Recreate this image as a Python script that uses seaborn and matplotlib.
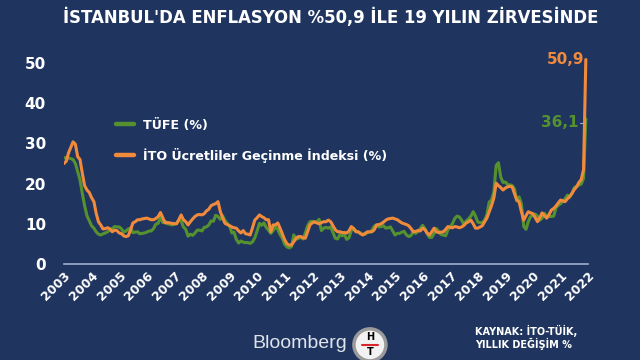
import matplotlib
matplotlib.use("Agg")
import matplotlib.pyplot as plt
import matplotlib.patches as mpatches
from matplotlib.lines import Line2D
import pandas as pd
import seaborn as sns

BG = "#1f3560"
GREEN = "#55922f"
ORANGE = "#f28a3c"

sns.set_theme(style="white")
plt.rcParams["font.family"] = ["DejaVu Sans"]

# monthly annual change, Jan 2003 .. Dec 2021
tufe = [
    26.4, 26.5, 26.4, 26.2, 26.0, 25.0, 23.0, 20.9, 17.5, 14.5, 12.0, 10.8,  # 2003
    9.5, 8.9, 8.0, 7.4, 7.2, 7.5, 7.7, 8.0, 8.5, 8.8, 9.3, 9.2,  # 2004
    9.2, 8.7, 7.9, 8.2, 8.7, 8.9, 7.8, 7.9, 8.0, 7.5, 7.6, 7.7,  # 2005
    7.9, 8.2, 8.2, 8.8, 9.9, 10.1, 11.7, 10.3, 10.6, 10.0, 9.9, 9.7,  # 2006
    9.9, 10.2, 10.9, 10.7, 9.2, 8.6, 6.9, 7.4, 7.1, 7.7, 8.4, 8.4,  # 2007
    8.2, 9.1, 9.2, 9.7, 10.7, 10.6, 12.1, 11.8, 11.1, 12.0, 10.8, 10.1,  # 2008
    9.5, 7.7, 7.9, 6.1, 5.2, 5.7, 5.4, 5.3, 5.3, 5.1, 5.5, 6.5,  # 2009
    8.2, 10.1, 9.6, 10.2, 9.1, 8.4, 7.6, 8.3, 9.2, 8.6, 7.3, 6.4,  # 2010
    4.9, 4.2, 4.0, 4.3, 7.2, 6.2, 6.3, 6.7, 6.2, 7.7, 9.5, 10.5,  # 2011
    10.6, 10.4, 10.4, 11.1, 8.3, 8.9, 9.1, 8.9, 9.2, 7.8, 6.4, 6.2,  # 2012
    7.3, 7.0, 7.3, 6.1, 6.5, 8.3, 8.9, 8.2, 7.9, 7.7, 7.3, 7.4,  # 2013
    7.8, 7.9, 8.4, 9.4, 9.7, 9.2, 9.3, 9.5, 8.9, 9.0, 9.2, 8.2,  # 2014
    7.2, 7.6, 7.6, 7.9, 8.1, 7.2, 6.8, 7.1, 8.0, 7.6, 8.1, 8.8,  # 2015
    9.6, 8.8, 7.5, 6.6, 6.6, 7.6, 8.8, 8.1, 7.3, 7.2, 7.0, 8.5,  # 2016
    9.2, 10.1, 11.3, 11.9, 11.7, 10.9, 9.8, 10.7, 11.2, 11.9, 13.0, 11.9,  # 2017
    10.4, 10.3, 10.2, 10.9, 12.2, 15.4, 15.9, 17.9, 24.5, 25.2, 21.6, 20.3,  # 2018
    20.4, 19.7, 19.7, 19.5, 18.7, 15.7, 16.7, 15.0, 9.3, 8.6, 10.6, 11.8,  # 2019
    12.2, 12.4, 11.9, 10.9, 11.4, 12.6, 11.8, 11.8, 11.8, 11.9, 14.0, 14.6,  # 2020
    15.0, 15.6, 16.2, 17.1, 16.6, 17.5, 19.0, 19.3, 19.6, 19.9, 21.3, 36.1,  # 2021
]
ito = [
    25.0, 25.6, 27.6, 29.0, 30.4, 29.8, 26.7, 26.0, 22.5, 19.5, 18.4, 17.8,  # 2003
    16.5, 15.5, 12.7, 10.5, 9.7, 8.7, 8.8, 9.0, 8.7, 8.0, 8.4, 8.3,  # 2004
    7.7, 7.5, 7.0, 6.8, 7.0, 8.5, 10.2, 10.5, 11.0, 11.0, 11.2, 11.3,  # 2005
    11.4, 11.2, 11.0, 11.0, 11.3, 11.8, 12.8, 11.5, 10.2, 10.3, 10.2, 10.1,  # 2006
    10.0, 10.0, 11.0, 12.2, 11.0, 10.5, 9.7, 10.5, 11.2, 11.8, 12.2, 12.3,  # 2007
    12.2, 12.5, 13.2, 13.6, 14.5, 14.8, 15.0, 15.5, 13.0, 11.5, 10.1, 9.8,  # 2008
    9.5, 9.2, 9.0, 8.9, 8.2, 7.7, 8.3, 7.5, 7.4, 7.2, 9.0, 10.9,  # 2009
    11.5, 12.2, 11.8, 11.5, 11.0, 11.0, 8.0, 9.7, 9.7, 10.2, 8.9, 7.5,  # 2010
    6.0, 5.0, 4.7, 4.7, 5.5, 6.4, 6.8, 6.8, 6.5, 6.4, 8.0, 9.7,  # 2011
    10.2, 10.5, 10.2, 10.0, 10.3, 10.5, 10.5, 10.9, 10.5, 9.5, 8.5, 8.0,  # 2012
    8.0, 7.8, 7.8, 7.7, 8.2, 9.3, 8.8, 8.0, 8.0, 7.5, 7.2, 7.6,  # 2013
    8.0, 8.0, 8.0, 8.5, 9.7, 9.8, 10.0, 10.4, 10.9, 11.2, 11.3, 11.4,  # 2014
    11.2, 11.0, 10.6, 10.2, 10.0, 9.8, 9.5, 8.8, 8.0, 8.1, 8.3, 8.2,  # 2015
    8.9, 8.5, 7.7, 7.2, 8.0, 8.9, 8.0, 7.8, 7.9, 8.0, 8.6, 9.3,  # 2016
    9.1, 9.0, 9.3, 9.2, 9.0, 9.2, 9.6, 10.2, 10.5, 10.9, 10.0, 8.9,  # 2017
    8.9, 9.2, 9.5, 10.5, 11.4, 13.0, 14.5, 16.4, 20.1, 19.5, 19.0, 18.4,  # 2018
    18.9, 19.2, 19.3, 19.2, 17.5, 15.9, 15.5, 13.0, 10.9, 12.0, 13.0, 12.7,  # 2019
    12.5, 11.5, 10.5, 11.5, 12.7, 12.0, 11.4, 12.3, 13.4, 13.8, 14.4, 15.2,  # 2020
    15.9, 15.7, 15.5, 16.2, 16.8, 17.6, 18.5, 19.2, 20.3, 21.0, 23.5, 50.9,  # 2021
]
years = list(range(2003, 2023))
series_names = ["TÜFE (%)", "İTO Ücretliler Geçinme İndeksi (%)"]

dates = pd.date_range("2003-01-01", periods=len(tufe), freq="MS")
df = pd.concat([
    pd.DataFrame({"tarih": dates, "deger": tufe, "seri": series_names[0]}),
    pd.DataFrame({"tarih": dates, "deger": ito, "seri": series_names[1]}),
])

fig = plt.figure(figsize=(6.4, 3.6), dpi=100, facecolor=BG)
ax = fig.add_axes([0.1, 0.267, 0.819, 0.591])
ax.set_facecolor(BG)

sns.lineplot(data=df, x="tarih", y="deger", hue="seri", hue_order=series_names,
             palette=[GREEN, ORANGE], linewidth=2.2, ax=ax, legend=False)

ax.set_xlim(pd.Timestamp("2003-01-01"), pd.Timestamp("2022-01-01"))
ax.set_ylim(0, 53)
ax.set_xticks([pd.Timestamp(f"{y}-01-01") for y in years])
ax.set_xticklabels([str(y) for y in years], rotation=45, ha="right",
                   rotation_mode="anchor", color="white", fontsize=9, fontweight="bold")
ax.set_yticks([0, 10, 20, 30, 40, 50])
ax.set_yticklabels(["0", "10", "20", "30", "40", "50"], color="white",
                   fontsize=11, fontweight="bold")
ax.tick_params(axis="y", length=0, pad=13)
ax.tick_params(axis="x", length=0, pad=4)
ax.set_xlabel("")
ax.set_ylabel("")
for side in ["top", "right", "left"]:
    ax.spines[side].set_visible(False)
ax.spines["bottom"].set_color("#9fb0cc")
ax.spines["bottom"].set_linewidth(1.2)

handles = [Line2D([0], [0], color=GREEN, lw=3.2), Line2D([0], [0], color=ORANGE, lw=3.2)]
leg = ax.legend(handles, series_names, loc="upper left", bbox_to_anchor=(0.077, 0.735),
                frameon=False, labelcolor="white", handlelength=1.45, handletextpad=0.7,
                labelspacing=1.25, prop={"weight": "bold", "size": 9.1})

ax.text(pd.Timestamp("2021-11-10"), 50.9, "50,9", color=ORANGE, fontsize=11,
        fontweight="bold", ha="right", va="center")
ax.text(pd.Timestamp("2021-08-20"), 35.2, "36,1", color=GREEN, fontsize=11,
        fontweight="bold", ha="right", va="center")
ax.plot([pd.Timestamp("2021-09-10"), pd.Timestamp("2021-10-25")], [35.2, 35.2],
        color="#9fb0cc", lw=0.8)

fig.text(0.516, 0.952, "İSTANBUL'DA ENFLASYON %50,9 İLE 19 YILIN ZİRVESİNDE",
         color="white", fontsize=11.9, fontweight="bold", ha="center", va="center")

fig.text(0.395, 0.047, "Bloomberg", color="#dfe3ea", fontsize=14,
         family="Liberation Sans", ha="left", va="center")
logo = mpatches.Ellipse((0.578, 0.042), 0.05, 0.089, transform=fig.transFigure,
                        facecolor="#f2f2f2", edgecolor="#9a9a9a", linewidth=2.5)
fig.patches.append(logo)
fig.text(0.578, 0.063, "H", color="black", fontsize=7, fontweight="bold",
         ha="center", va="center")
fig.text(0.578, 0.022, "T", color="black", fontsize=7, fontweight="bold",
         ha="center", va="center")
fig.lines.append(Line2D([0.566, 0.590], [0.043, 0.043], transform=fig.transFigure,
                        color="#d8262c", lw=1.5))

fig.text(0.742, 0.063, "KAYNAK: İTO-TÜİK,\nYILLIK DEĞİŞİM %", color="white",
         fontsize=7, fontweight="bold", ha="left", va="center", linespacing=1.15)

fig.savefig("out.png", dpi=100, facecolor=BG)
